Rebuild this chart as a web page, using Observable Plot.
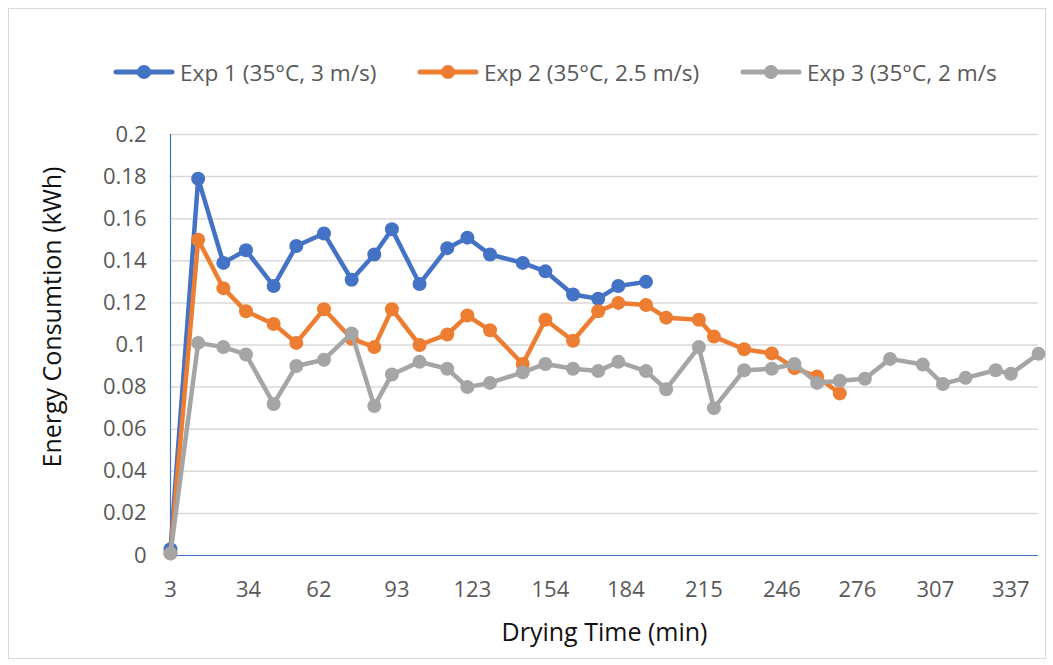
<!DOCTYPE html>
<html>
<head>
<meta charset="utf-8">
<script src="https://cdn.jsdelivr.net/npm/d3@7"></script>
<script src="https://cdn.jsdelivr.net/npm/@observablehq/plot@0.6"></script>
<style>
  html, body { margin: 0; padding: 0; background: #fff; }
  #wrap { position: relative; width: 1053px; height: 665px; overflow: hidden; font-family: "Open Sans", "Noto Sans", sans-serif; }
  #frame { position: absolute; left: 8px; top: 8px; width: 1038px; height: 651px; border: 1px solid #d9d9d9; box-sizing: border-box; }
  #legend { position: absolute; top: 56px; left: 0; width: 1053px; height: 32px; }
  .item { position: absolute; top: 0; display: flex; align-items: center; height: 32px; font-size: 22.6px; color: #595959; white-space: nowrap; }
  .item svg { margin-right: 5px; }
  #chart { position: absolute; left: 0; top: 100px; }
</style>
</head>
<body>
<div id="wrap">
  <div id="frame"></div>
  <div id="legend"></div>
  <div id="chart"></div>
</div>
<script>
// Drying time (min) for each measurement
const times = [3, 14, 24, 33, 44, 53, 64, 75, 84, 91, 102, 113, 121, 130, 143, 152, 163, 173, 181, 192, 200, 213, 219, 231, 242, 251, 260, 269, 279, 289, 302, 310, 319, 331, 337, 348];

// Energy consumption (kWh)
const exp1 = [0.003, 0.179, 0.139, 0.145, 0.128, 0.147, 0.153, 0.131, 0.143, 0.155, 0.129, 0.146, 0.151, 0.143, 0.139, 0.135, 0.124, 0.122, 0.128, 0.130];
const exp2 = [0.001, 0.150, 0.127, 0.116, 0.110, 0.101, 0.117, 0.103, 0.099, 0.117, 0.100, 0.105, 0.114, 0.107, 0.091, 0.112, 0.102, 0.116, 0.120, 0.119, 0.113, 0.112, 0.104, 0.098, 0.096, 0.089, 0.085, 0.077];
const exp3 = [0.001, 0.101, 0.099, 0.0955, 0.072, 0.090, 0.093, 0.1055, 0.071, 0.086, 0.092, 0.0887, 0.080, 0.082, 0.087, 0.091, 0.0887, 0.0876, 0.092, 0.0876, 0.079, 0.099, 0.070, 0.088, 0.0887, 0.091, 0.082, 0.083, 0.084, 0.0934, 0.0907, 0.0815, 0.0844, 0.088, 0.0863, 0.0958];

const seriesNames = ["Exp 1 (35°C, 3 m/s)", "Exp 2 (35°C, 2.5 m/s)", "Exp 3 (35°C, 2 m/s"];
const seriesColors = ["#4472C4", "#ED7D31", "#A5A5A5"];
const xTicks = [3, 34, 62, 93, 123, 154, 184, 215, 246, 276, 307, 337];
const yTicks = [0, 0.02, 0.04, 0.06, 0.08, 0.1, 0.12, 0.14, 0.16, 0.18, 0.2];
const xTitle = "Drying Time (min)";
const yTitle = "Energy Consumtion (kWh)";

const allSeries = [exp1, exp2, exp3].map((vals, s) =>
  vals.map((v, i) => ({ t: times[i], v, s: seriesNames[s] }))
);

// Legend
const legend = document.getElementById("legend");
const legendLefts = [113, 417, 740];
seriesNames.forEach((name, i) => {
  const item = document.createElement("div");
  item.className = "item";
  item.style.left = legendLefts[i] + "px";
  item.innerHTML = `<svg width="62" height="20"><line x1="3" x2="59" y1="10" y2="10" stroke="${seriesColors[i]}" stroke-width="5" stroke-linecap="round"/><circle cx="31" cy="10" r="7" fill="${seriesColors[i]}"/></svg><span>${name}</span>`;
  legend.appendChild(item);
});

const seriesMarks = allSeries.flatMap((data, i) => [
  Plot.line(data, { x: "t", y: "v", stroke: seriesColors[i], strokeWidth: 4.5, strokeLinejoin: "round", strokeLinecap: "round" }),
  Plot.dot(data, { x: "t", y: "v", r: 7, fill: seriesColors[i], stroke: "none" })
]);

const chart = Plot.plot({
  width: 1053,
  height: 565,
  marginTop: 34,
  marginBottom: 110,
  marginLeft: 170,
  marginRight: 15,
  style: { fontFamily: "'Open Sans', 'Noto Sans', sans-serif", background: "transparent", overflow: "visible" },
  x: { domain: [3, 348] },
  y: { domain: [0, 0.2] },
  marks: [
    Plot.ruleY(yTicks.slice(1), { stroke: "#d9d9d9", strokeWidth: 1.5 }),
    Plot.ruleY([0], { stroke: "#4472C4", strokeWidth: 1.2 }),
    Plot.ruleX([3], { stroke: "#4472C4", strokeWidth: 1.2 }),
    Plot.axisX({ ticks: xTicks, tickSize: 0, tickPadding: 26, tickFormat: d => String(d), fontSize: 22, color: "#595959", label: null }),
    Plot.axisY({ ticks: yTicks, tickSize: 0, tickPadding: 24, tickFormat: d => String(d), fontSize: 22, color: "#595959", label: null }),
    Plot.text([xTitle], { frameAnchor: "bottom", dy: 77, textAnchor: "middle", lineAnchor: "middle", fontSize: 25, fill: "#111" }),
    Plot.text([yTitle], { frameAnchor: "left", dx: -118, dy: -28, rotate: -90, textAnchor: "middle", lineAnchor: "middle", fontSize: 25, fill: "#111" }),
    ...seriesMarks
  ]
});
document.getElementById("chart").appendChild(chart);
</script>
</body>
</html>
